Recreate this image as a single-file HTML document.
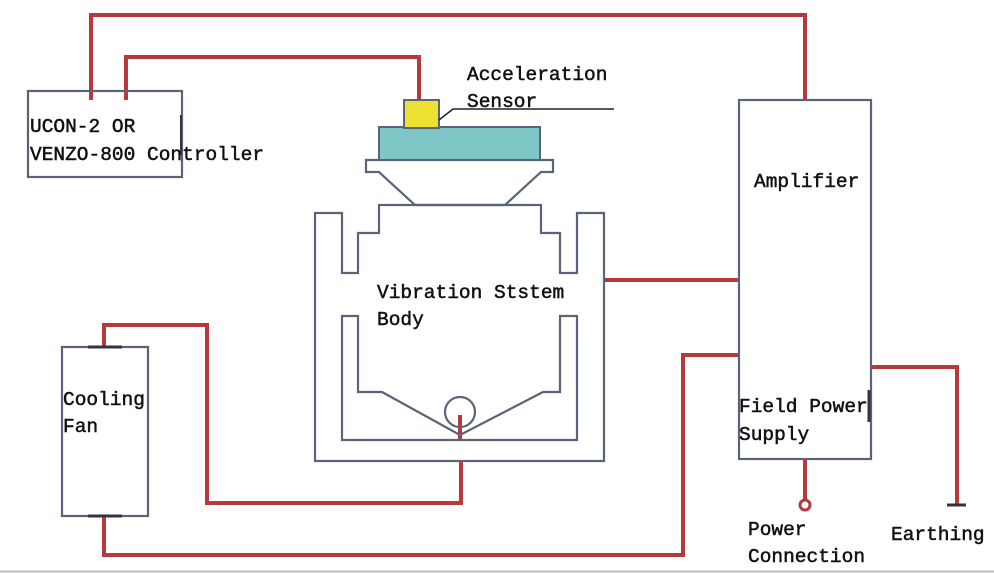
<!DOCTYPE html>
<html><head><meta charset="utf-8"><style>
html,body{margin:0;padding:0;background:#fff;}
svg{display:block;}
text{font-family:"Liberation Mono","Noto Serif CJK SC",monospace;font-size:19.5px;fill:#111;stroke:#111;stroke-width:0.5;}
</style></head><body>
<svg width="994" height="573" viewBox="0 0 994 573" xmlns="http://www.w3.org/2000/svg">
<g fill="none" stroke="#b8393b" stroke-width="4">
<polyline points="91,100 91,15 805,15 805,100"/>
<polyline points="126,100 126,57 419,57 419,100"/>
<line x1="604" y1="280" x2="739" y2="280"/>
<polyline points="460,415 460,440"/>
<polyline points="461,461 461,503 207,503 207,325 104,325 104,347"/>
<polyline points="104,516 104,555 683,555 683,355 739,355"/>
<polyline points="871,367 957,367 957,505"/>
<line x1="805" y1="459" x2="805" y2="500"/>
<circle cx="805" cy="505" r="5" stroke-width="3"/>
</g>
<line x1="947" y1="505" x2="966" y2="505" stroke="#333" stroke-width="3"/>
<g fill="none" stroke="#5a6378" stroke-width="2.2">
<rect x="28" y="91" width="154" height="86"/>
<rect x="739" y="100" width="132" height="359"/>
<rect x="62" y="347" width="86" height="169"/>
<path d="M315,213 L342,213 L342,273 L358,273 L358,233 L379,233 L379,205 L541,205 L541,233 L560,233 L560,273 L577,273 L577,213 L604,213 L604,461 L315,461 Z"/>
<path d="M342,316 L358,316 L358,392 L382,392 L460,435 L543,392 L560,392 L560,316 L577,316 L577,440 L342,440 Z"/>
<circle cx="460" cy="412" r="15"/>
<path d="M366,160 L553,160 L553,172 L541,172 L505,205 L415,205 L379,172 L366,172 Z"/>
</g>
<line x1="88" y1="347" x2="122" y2="347" stroke="#334" stroke-width="3"/>
<line x1="88" y1="516" x2="122" y2="516" stroke="#334" stroke-width="3"/>
<line x1="181" y1="115" x2="181" y2="155" stroke="#334" stroke-width="2"/>
<line x1="869" y1="390" x2="869" y2="422" stroke="#334" stroke-width="3"/>
<rect x="379" y="127" width="161" height="33" fill="#7fc6c6" stroke="#5a6378" stroke-width="2"/>
<rect x="404" y="100" width="35" height="28" fill="#ece030" stroke="#5a6378" stroke-width="2"/>
<polyline points="439,120 453,109 614,109" fill="none" stroke="#222" stroke-width="1.5"/>
<text x="467" y="80">Acceleration</text>
<text x="467" y="107">Sensor</text>
<text x="30" y="132">UCON-2 OR</text>
<text x="30" y="160">VENZO-800 Controller</text>
<text x="377" y="298">Vibration Ststem</text>
<text x="377" y="325">Body</text>
<text x="754" y="187">Amplifier</text>
<text x="739" y="412">Field Power</text>
<text x="739" y="440">Supply</text>
<text x="63" y="405">Cooling</text>
<text x="63" y="432">Fan</text>
<text x="748" y="535">Power</text>
<text x="748" y="562">Connection</text>
<text x="891" y="540">Earthing</text>
<line x1="0" y1="571.5" x2="994" y2="571.5" stroke="#bbb" stroke-width="2"/>
</svg>
</body></html>
